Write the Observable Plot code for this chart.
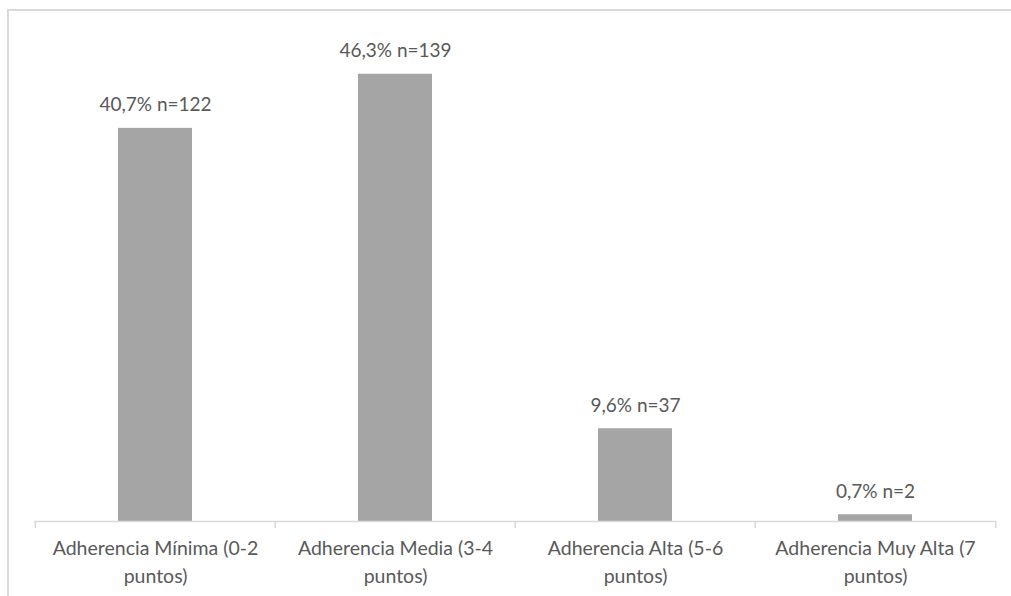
<!DOCTYPE html>
<html>
<head>
<meta charset="utf-8">
<script src="https://cdn.jsdelivr.net/npm/d3@7"></script>
<script src="https://cdn.jsdelivr.net/npm/@observablehq/plot@0.6"></script>
<style>
  html, body { margin: 0; padding: 0; background: #fff; }
  #wrap { position: relative; width: 1011px; height: 596px; overflow: hidden; }
  #frame { position: absolute; left: 7px; top: 9px; width: 1100px; height: 700px;
           border-top: 2px solid #d9d9d9; border-left: 2px solid #d9d9d9; box-sizing: border-box; }
  #chart { position: absolute; left: 0; top: 0; }
</style>
</head>
<body>
<div id="wrap"><div id="frame"></div><div id="chart"></div></div>
<script>
const categories = [
  "Adherencia Mínima (0-2 puntos)",
  "Adherencia Media (3-4 puntos)",
  "Adherencia Alta (5-6 puntos)",
  "Adherencia Muy Alta (7 puntos)"
];
const percentages = [40.7, 46.3, 9.6, 0.7];
const counts = [122, 139, 37, 2];

const data = categories.map((c, i) => ({cat: c, pct: percentages[i], n: counts[i]}));
const fmt = v => v.toFixed(1).replace(".", ",");

const W = 1011, H = 596, ML = 34, MR = 15;
const step = (W - ML - MR) / categories.length;

const chart = Plot.plot({
  width: W,
  height: H,
  marginLeft: ML,
  marginRight: MR,
  marginTop: 38,
  marginBottom: 75,
  style: {fontFamily: "Lato, 'Open Sans', sans-serif", color: "#595959", background: "transparent"},
  x: {domain: categories, paddingInner: 0.69, paddingOuter: 0.345, align: 0.5, label: null},
  y: {domain: [0, 50], axis: null},
  marks: [
    Plot.barY(data, {x: "cat", y: "pct", fill: "#a5a5a5"}),
    Plot.ruleY([0], {stroke: "#d9d9d9", strokeWidth: 1.5}),
    Plot.ruleX(categories, {x: d => d, y1: 0, y2: -0.75, dx: -step / 2, stroke: "#d9d9d9", strokeWidth: 1.5}),
    Plot.ruleX([categories[categories.length - 1]], {x: d => d, y1: 0, y2: -0.75, dx: step / 2, stroke: "#d9d9d9", strokeWidth: 1.5}),
    Plot.text(data, {
      x: "cat", y: "pct",
      text: d => `${fmt(d.pct)}% n=${d.n}`,
      lineAnchor: "bottom", dy: -17,
      fontSize: 19, fill: "#595959"
    }),
    Plot.axisX({
      tickSize: 0, tickPadding: 14, fontSize: 19.5, lineHeight: 1.43,
      fill: "#595959", label: null,
      tickFormat: d => d.replace(/ (?=puntos\))/, "\n")
    })
  ]
});
document.getElementById("chart").appendChild(chart);
</script>
</body>
</html>
